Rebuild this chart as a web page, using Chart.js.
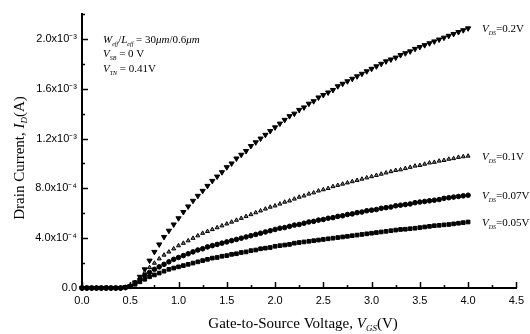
<!DOCTYPE html>
<html>
<head>
<meta charset="utf-8">
<script src="https://cdn.jsdelivr.net/npm/chart.js@4.4.1/dist/chart.umd.min.js"></script>
<style>
  html, body { margin: 0; padding: 0; background: #fff; }
  #wrap { width: 530px; height: 334px; position: relative; }
</style>
</head>
<body>
<div id="wrap"><canvas id="chart"></canvas></div>
<script>
// gate-source voltage (V), one sample every 0.05 V
const vgs = [
  0.00, 0.05, 0.10, 0.15, 0.20, 0.25, 0.30, 0.35, 0.40, 0.45,
  0.50, 0.55, 0.60, 0.65, 0.70, 0.75, 0.80, 0.85, 0.90, 0.95,
  1.00, 1.05, 1.10, 1.15, 1.20, 1.25, 1.30, 1.35, 1.40, 1.45,
  1.50, 1.55, 1.60, 1.65, 1.70, 1.75, 1.80, 1.85, 1.90, 1.95,
  2.00, 2.05, 2.10, 2.15, 2.20, 2.25, 2.30, 2.35, 2.40, 2.45,
  2.50, 2.55, 2.60, 2.65, 2.70, 2.75, 2.80, 2.85, 2.90, 2.95,
  3.00, 3.05, 3.10, 3.15, 3.20, 3.25, 3.30, 3.35, 3.40, 3.45,
  3.50, 3.55, 3.60, 3.65, 3.70, 3.75, 3.80, 3.85, 3.90, 3.95,
  4.00
];

// drain current in units of 1e-4 A
const idVds02 = [
  0, 0, 0, 0, 0, 0, 0, 0, 0, 0.06,
  0.15, 0.45, 0.9, 1.5, 2.2, 2.9, 3.5, 4.1, 4.6, 5.1,
  5.6, 6.1, 6.55, 7.0, 7.4, 7.8, 8.2, 8.6, 8.95, 9.3,
  9.7, 10.0, 10.4, 10.7, 11.0, 11.4, 11.7, 12.0, 12.3, 12.6,
  12.9, 13.2, 13.5, 13.8, 14.0, 14.3, 14.5, 14.8, 15.0, 15.3,
  15.5, 15.7, 15.9, 16.2, 16.4, 16.6, 16.8, 17.0, 17.2, 17.4,
  17.6, 17.8, 18.0, 18.2, 18.35, 18.5, 18.7, 18.85, 19.0, 19.2,
  19.35, 19.5, 19.65, 19.8, 19.95, 20.1, 20.25, 20.4, 20.55, 20.7,
  20.85
];
const idVds01 = [
  0, 0, 0, 0, 0, 0, 0, 0, 0, 0.05,
  0.15, 0.45, 0.85, 1.25, 1.65, 2.0, 2.35, 2.65, 2.9, 3.15,
  3.4, 3.6, 3.8, 4.0, 4.2, 4.4, 4.55, 4.7, 4.85, 5.0,
  5.15, 5.3, 5.45, 5.6, 5.75, 5.9, 6.05, 6.2, 6.35, 6.5,
  6.6, 6.75, 6.9, 7.0, 7.15, 7.3, 7.4, 7.55, 7.65, 7.8,
  7.9, 8.0, 8.15, 8.25, 8.35, 8.45, 8.55, 8.65, 8.75, 8.85,
  8.95, 9.05, 9.15, 9.25, 9.35, 9.45, 9.5, 9.6, 9.7, 9.8,
  9.85, 9.95, 10.05, 10.1, 10.2, 10.25, 10.35, 10.4, 10.5, 10.55,
  10.6
];
const idVds007 = [
  0, 0, 0, 0, 0, 0, 0, 0, 0, 0.05,
  0.15, 0.4, 0.7, 1.0, 1.25, 1.5, 1.7, 1.9, 2.1, 2.3,
  2.45, 2.6, 2.75, 2.9, 3.05, 3.15, 3.3, 3.4, 3.5, 3.6,
  3.7, 3.8, 3.9, 4.0, 4.1, 4.2, 4.3, 4.4, 4.5, 4.6,
  4.7, 4.8, 4.85, 4.95, 5.05, 5.1, 5.2, 5.3, 5.35, 5.45,
  5.5, 5.6, 5.65, 5.75, 5.8, 5.9, 5.95, 6.05, 6.1, 6.2,
  6.25, 6.3, 6.4, 6.45, 6.5, 6.6, 6.65, 6.7, 6.75, 6.85,
  6.9, 6.95, 7.0, 7.05, 7.1, 7.2, 7.25, 7.3, 7.35, 7.4,
  7.45
];
const idVds005 = [
  0, 0, 0, 0, 0, 0, 0, 0, 0, 0.05,
  0.12, 0.3, 0.5, 0.7, 0.9, 1.05, 1.2, 1.35, 1.5, 1.6,
  1.7, 1.8, 1.9, 2.0, 2.1, 2.2, 2.3, 2.4, 2.45, 2.55,
  2.6, 2.7, 2.75, 2.85, 2.9, 3.0, 3.05, 3.15, 3.2, 3.25,
  3.35, 3.4, 3.45, 3.5, 3.6, 3.65, 3.7, 3.75, 3.8, 3.85,
  3.9, 3.95, 4.0, 4.05, 4.1, 4.15, 4.2, 4.25, 4.3, 4.35,
  4.4, 4.45, 4.5, 4.55, 4.6, 4.65, 4.7, 4.72, 4.76, 4.8,
  4.85, 4.9, 4.95, 5.0, 5.03, 5.07, 5.1, 5.15, 5.2, 5.25,
  5.3
];

const seriesLabels = ['0.2V', '0.1V', '0.07V', '0.05V'];
const yTickLabels = { 0: '0.0', 4: '4.0x10\u207B\u2074', 8: '8.0x10\u207B\u2074', 12: '1.2x10\u207B\u00B3', 16: '1.6x10\u207B\u00B3', 20: '2.0x10\u207B\u00B3' };

const SERIF = '"Liberation Serif", "Times New Roman", serif';
const SANS = '"Liberation Sans", Arial, sans-serif';

function pts(arr) { return vgs.map((v, i) => ({ x: v, y: arr[i] })); }

// draws a run of text pieces with different fonts (italic / subscripts)
function rich(ctx, parts, x, y, measureOnly) {
  let cx = x;
  parts.forEach(p => {
    ctx.font = p.f;
    if (!measureOnly) ctx.fillText(p.t, cx, y + (p.dy || 0));
    cx += ctx.measureText(p.t).width;
  });
  return cx - x;
}

const overlay = {
  id: 'overlay',
  afterDraw(chart) {
    const ctx = chart.ctx;
    const xs = chart.scales.x, ys = chart.scales.y;
    const a = chart.chartArea;
    ctx.save();
    ctx.strokeStyle = '#000';
    ctx.fillStyle = '#000';
    ctx.lineWidth = 1.5;

    // inward ticks
    for (let v = 0; v <= 22.001; v += 2) {
      const py = Math.round(ys.getPixelForValue(v)) + 0.5;
      const len = (Math.round(v) % 4 === 0) ? 6 : 3;
      ctx.beginPath(); ctx.moveTo(a.left, py); ctx.lineTo(a.left + len, py); ctx.stroke();
    }
    for (let i = 0; i <= 18; i++) {
      const px = Math.round(xs.getPixelForValue(i * 0.25)) + 0.5;
      const len = (i % 2 === 0) ? 6 : 3;
      ctx.beginPath(); ctx.moveTo(px, a.bottom); ctx.lineTo(px, a.bottom - len); ctx.stroke();
    }

    // curve labels at the right end
    ctx.textBaseline = 'alphabetic';
    ctx.textAlign = 'left';
    const ends = [idVds02, idVds01, idVds007, idVds005];
    ends.forEach((arr, k) => {
      const py = ys.getPixelForValue(arr[arr.length - 1]) + 4;
      rich(ctx, [
        { t: 'V', f: 'italic 11px ' + SERIF },
        { t: 'DS', f: 'italic 6px ' + SERIF, dy: 3 },
        { t: '=' + seriesLabels[k], f: '11px ' + SERIF }
      ], 482, py);
    });

    // parameter note
    const it = 'italic 11px ' + SERIF, rm = '11px ' + SERIF, sb = 'italic 6px ' + SERIF;
    rich(ctx, [
      { t: 'W', f: it }, { t: 'eff', f: sb, dy: 3 }, { t: '/', f: rm },
      { t: 'L', f: it }, { t: 'eff', f: sb, dy: 3 }, { t: ' = 30', f: rm },
      { t: '\u03BCm', f: it }, { t: '/0.6', f: rm }, { t: '\u03BCm', f: it }
    ], 103, 43);
    rich(ctx, [{ t: 'V', f: it }, { t: 'SB', f: sb, dy: 3 }, { t: ' = 0 V', f: rm }], 103, 57);
    rich(ctx, [{ t: 'V', f: it }, { t: 'TN', f: sb, dy: 3 }, { t: ' = 0.41V', f: rm }], 103, 72);

    // axis titles
    const big = '15px ' + SERIF, bigI = 'italic 15px ' + SERIF, small = 'italic 9px ' + SERIF;
    const xParts = [
      { t: 'Gate-to-Source Voltage, ', f: big }, { t: 'V', f: bigI },
      { t: 'GS', f: small, dy: 3 }, { t: '(V)', f: big }
    ];
    const xw = rich(ctx, xParts, 0, 0, true);
    rich(ctx, xParts, 303 - xw / 2, 328);

    const yParts = [
      { t: 'Drain Current, ', f: big }, { t: 'I', f: bigI },
      { t: 'D', f: small, dy: 3 }, { t: '(A)', f: big }
    ];
    const yw = rich(ctx, yParts, 0, 0, true);
    ctx.translate(24, 158);
    ctx.rotate(-Math.PI / 2);
    rich(ctx, yParts, -yw / 2, 0);
    ctx.restore();
  }
};

const ds = (label, arr, style, extra) => Object.assign({
  label,
  data: pts(arr),
  showLine: false,
  pointStyle: style,
  pointBackgroundColor: '#000',
  pointBorderColor: '#000',
  pointBorderWidth: 1,
  clip: false
}, extra);

new Chart(document.getElementById('chart'), {
  type: 'scatter',
  data: {
    datasets: [
      ds('VDS=0.05V', idVds005, 'rect', { pointRadius: 2.6 }),
      ds('VDS=0.07V', idVds007, 'circle', { pointRadius: 2.3 }),
      ds('VDS=0.1V', idVds01, 'triangle', { pointRadius: 2.3, pointBackgroundColor: '#777', pointBorderWidth: 1 }),
      ds('VDS=0.2V', idVds02, 'triangle', { pointRadius: 3, pointRotation: 180 })
    ]
  },
  options: {
    responsive: true,
    maintainAspectRatio: false,
    animation: false,
    layout: { padding: { left: 0, right: 11, top: 14, bottom: 0 } },
    plugins: { legend: { display: false }, tooltip: { enabled: false } },
    scales: {
      x: {
        type: 'linear', min: 0, max: 4.5,
        grid: { display: false, drawTicks: false, tickLength: 0 },
        border: { display: true, color: '#000', width: 2 },
        afterFit(s) { s.height = 46; },
        ticks: {
          stepSize: 0.25, autoSkip: false, maxRotation: 0, padding: 6,
          color: '#000', font: { family: SANS, size: 11 },
          callback: v => (Math.abs(v * 2 - Math.round(v * 2)) < 1e-6) ? v.toFixed(1) : ''
        }
      },
      y: {
        type: 'linear', min: 0, max: 22,
        grid: { display: false, drawTicks: false, tickLength: 0 },
        border: { display: true, color: '#000', width: 2 },
        afterFit(s) { s.width = 82; },
        ticks: {
          stepSize: 2, autoSkip: false, padding: 5,
          color: '#000', font: { family: SANS, size: 11 },
          callback: v => yTickLabels[Math.round(v)] !== undefined && Math.abs(v - Math.round(v)) < 1e-6 ? yTickLabels[Math.round(v)] : ''
        }
      }
    }
  },
  plugins: [overlay]
});
</script>
</body>
</html>
